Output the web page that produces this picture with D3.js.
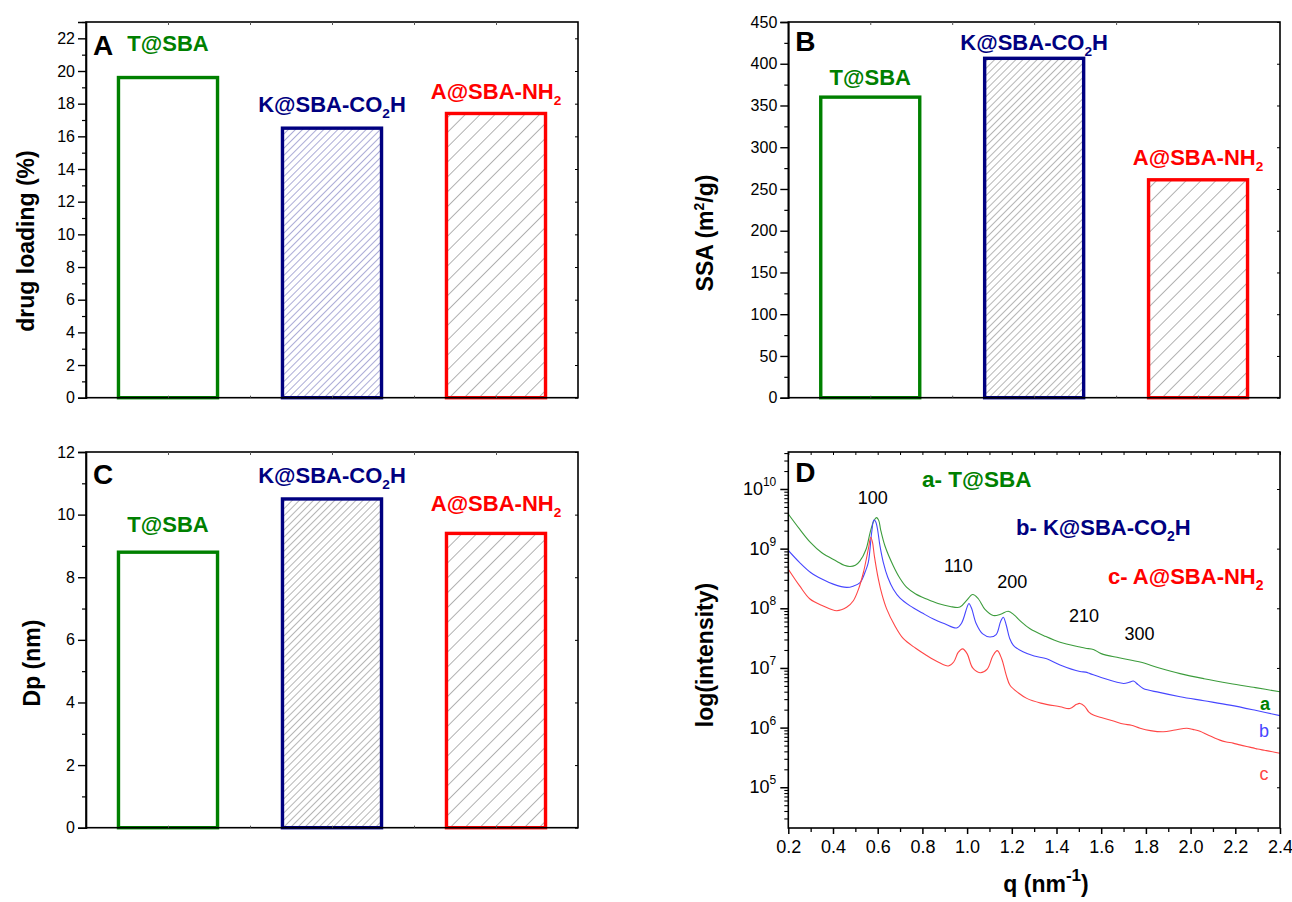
<!DOCTYPE html>
<html>
<head>
<meta charset="utf-8">
<script src="https://cdn.jsdelivr.net/npm/d3@7"></script>
<style>
  html, body { margin: 0; padding: 0; background: #fff; }
  svg { display: block; font-family: "Liberation Sans", Arial, sans-serif; }
</style>
</head>
<body>
<svg id="chart" width="1292" height="902"></svg>
<script>
// ---------------- DATA ----------------
const categories = ["T@SBA", "K@SBA-CO2H", "A@SBA-NH2"];
const drugLoading = [19.6, 16.5, 17.4];          // panel A (%)
const ssaValues = [360, 406.5, 261];             // panel B (m2/g)
const dpValues = [8.8, 10.5, 9.4];               // panel C (nm)

const ticksA = [0, 2, 4, 6, 8, 10, 12, 14, 16, 18, 20, 22];
const ticksB = [0, 50, 100, 150, 200, 250, 300, 350, 400, 450];
const ticksC = [0, 2, 4, 6, 8, 10, 12];
const ticksDx = [0.2, 0.4, 0.6, 0.8, 1.0, 1.2, 1.4, 1.6, 1.8, 2.0, 2.2, 2.4];
const ticksDyExp = [5, 6, 7, 8, 9, 10];

// panel D SAXS curves: [q (nm^-1), log10(intensity)]
const curveA = [[0.2,9.58],[0.25,9.33],[0.3,9.10],[0.35,8.93],[0.416,8.79],[0.45,8.72],[0.476,8.70],[0.50,8.72],[0.52,8.79],[0.548,8.99],[0.566,9.27],[0.582,9.46],[0.595,9.52],[0.605,9.47],[0.613,9.32],[0.633,9.04],[0.67,8.71],[0.70,8.50],[0.73,8.35],[0.77,8.24],[0.819,8.155],[0.87,8.08],[0.924,8.03],[0.968,8.02],[0.995,8.12],[1.025,8.23],[1.05,8.16],[1.08,7.98],[1.117,7.88],[1.15,7.90],[1.184,7.95],[1.21,7.89],[1.24,7.78],[1.28,7.66],[1.35,7.53],[1.416,7.43],[1.505,7.35],[1.53,7.33],[1.565,7.31],[1.60,7.24],[1.68,7.17],[1.774,7.10],[1.86,7.00],[1.953,6.905],[2.06,6.82],[2.176,6.74],[2.29,6.67],[2.4,6.60]];
const curveB = [[0.2,8.97],[0.25,8.77],[0.3,8.60],[0.35,8.49],[0.401,8.405],[0.461,8.35],[0.49,8.37],[0.521,8.43],[0.545,8.62],[0.558,8.77],[0.573,9.27],[0.583,9.48],[0.590,9.46],[0.598,9.35],[0.61,9.05],[0.625,8.77],[0.645,8.52],[0.67,8.32],[0.70,8.17],[0.745,8.04],[0.80,7.92],[0.849,7.82],[0.90,7.74],[0.953,7.67],[0.975,7.75],[1.0,8.02],[1.008,8.08],[1.02,8.00],[1.04,7.75],[1.07,7.57],[1.102,7.52],[1.13,7.56],[1.15,7.78],[1.162,7.85],[1.175,7.72],[1.19,7.50],[1.207,7.38],[1.25,7.27],[1.30,7.20],[1.356,7.155],[1.416,7.05],[1.505,6.94],[1.53,6.93],[1.55,6.905],[1.60,6.84],[1.70,6.74],[1.725,6.76],[1.744,6.78],[1.765,6.72],[1.788,6.655],[1.86,6.59],[1.953,6.517],[2.06,6.45],[2.176,6.377],[2.29,6.29],[2.4,6.20]];
const curveC = [[0.2,8.655],[0.25,8.38],[0.297,8.155],[0.356,8.04],[0.416,7.96],[0.461,8.017],[0.491,8.127],[0.515,8.33],[0.536,8.60],[0.558,8.99],[0.569,9.19],[0.577,9.10],[0.585,8.88],[0.603,8.49],[0.62,8.22],[0.64,7.99],[0.675,7.72],[0.715,7.49],[0.77,7.33],[0.819,7.21],[0.87,7.10],[0.916,7.033],[0.94,7.10],[0.96,7.26],[0.980,7.32],[1.0,7.24],[1.025,7.00],[1.058,6.92],[1.09,6.98],[1.115,7.20],[1.135,7.29],[1.155,7.15],[1.175,6.88],[1.192,6.71],[1.23,6.58],[1.267,6.49],[1.33,6.41],[1.416,6.35],[1.46,6.32],[1.49,6.39],[1.505,6.405],[1.525,6.36],[1.545,6.26],[1.565,6.21],[1.60,6.17],[1.655,6.11],[1.70,6.06],[1.735,6.04],[1.774,5.99],[1.82,5.95],[1.878,5.93],[1.93,5.96],[1.983,5.99],[2.01,5.97],[2.042,5.94],[2.08,5.87],[2.131,5.79],[2.16,5.76],[2.19,5.74],[2.22,5.71],[2.251,5.683],[2.28,5.66],[2.30,5.64],[2.33,5.62],[2.36,5.60],[2.4,5.57]];

const peakLabels = ["100", "110", "200", "210", "300"];
const peakLabelQ = [0.578, 0.961, 1.202, 1.523, 1.771];
const peakLabelLog = [9.74, 8.605, 8.34, 7.77, 7.47];

// ---------------- STYLE ----------------
const barColors = ["#008000", "#000080", "#ff0000"];
const curveColors = ["#3c9c3c", "#4646ff", "#ff4646"];
const FONT = '"Liberation Sans", Arial, sans-serif';

const svg = d3.select("#chart");
const defs = svg.append("defs");

function hatch(id, spacing, color, width) {
  const p = defs.append("pattern")
    .attr("id", id).attr("patternUnits", "userSpaceOnUse")
    .attr("width", spacing).attr("height", spacing)
    .attr("patternTransform", "rotate(45)");
  p.append("rect").attr("width", spacing).attr("height", spacing).attr("fill", "#fff");
  p.append("line").attr("x1", 0).attr("y1", 0).attr("x2", 0).attr("y2", spacing)
    .attr("stroke", color).attr("stroke-width", width);
}
hatch("hDenseBlue", 5, "#5a5ab0", 1);
hatch("hDenseGray", 5, "#6e6e6e", 1);
hatch("hWideGray", 10.5, "#666666", 1);

function labelText(g, name, x, y, color, size) {
  const t = g.append("text").attr("x", x).attr("y", y)
    .attr("text-anchor", "middle").attr("fill", color)
    .attr("font-weight", "bold").attr("font-size", size);
  if (name === "K@SBA-CO2H") {
    t.append("tspan").text("K@SBA-CO");
    t.append("tspan").attr("dy", 6).attr("font-size", size * 0.62).text("2");
    t.append("tspan").attr("dy", -6).text("H");
  } else if (name === "A@SBA-NH2") {
    t.append("tspan").text("A@SBA-NH");
    t.append("tspan").attr("dy", 6).attr("font-size", size * 0.62).text("2");
  } else {
    t.text(name);
  }
  return t;
}

function barPanel(opts) {
  const { x0, x1, y0, y1, max, values, ticks, minorStep, letter, fills, labelOffsets, title, titleX, titleY, superTitle } = opts;
  const g = svg.append("g");
  const x = d3.scaleBand().domain(categories).range([x0, x1]).paddingInner(0.396).paddingOuter(0.198);
  const xl = d3.scaleLinear().domain([0, 6]).range([x0, x1]);
  const y = d3.scaleLinear().domain([0, max]).range([y1, y0]);

  // bars
  g.selectAll("rect.bar").data(values).join("rect")
    .attr("x", (d, i) => x(categories[i]))
    .attr("y", d => y(d))
    .attr("width", x.bandwidth())
    .attr("height", d => y(0) - y(d))
    .attr("fill", (d, i) => fills[i])
    .attr("stroke", (d, i) => barColors[i])
    .attr("stroke-width", 3.4);

  // frame
  g.append("rect").attr("x", x0).attr("y", y0).attr("width", x1 - x0).attr("height", y1 - y0)
    .attr("fill", "none").attr("stroke", "#000").attr("stroke-width", 1.6);

  // left axis
  const left = d3.axisLeft(y).tickValues(ticks).tickSize(8).tickPadding(3).tickFormat(d3.format("d"));
  const ax = g.append("g").attr("transform", `translate(${x0},0)`).call(left);
  ax.select(".domain").attr("stroke-width", 1.6);
  ax.selectAll(".tick line").attr("stroke-width", 1.4);
  ax.selectAll("text").attr("font-size", 16).attr("font-family", FONT).attr("fill", "#000");
  const minors = d3.range(0, max + 1e-9, minorStep).filter(v => !ticks.includes(v));
  const mg = g.append("g").attr("transform", `translate(${x0},0)`)
    .call(d3.axisLeft(y).tickValues(minors).tickSize(4).tickFormat(""));
  mg.select(".domain").remove();
  mg.selectAll(".tick line").attr("stroke-width", 1.2);
  // right inward ticks
  const rg = g.append("g").attr("transform", `translate(${x1},0)`)
    .call(d3.axisLeft(y).tickValues(ticks).tickSize(3).tickFormat(""));
  rg.select(".domain").remove();
  // top/bottom small inward ticks
  const tg = g.append("g").attr("transform", `translate(0,${y0})`)
    .call(d3.axisBottom(xl).tickValues([1, 2, 3, 4, 5]).tickSize(3).tickFormat(""));
  tg.select(".domain").remove();
  tg.selectAll(".tick line").attr("stroke", "#555");
  const bg = g.append("g").attr("transform", `translate(0,${y1})`)
    .call(d3.axisTop(xl).tickValues([1, 2, 3, 4, 5]).tickSize(2).tickFormat(""));
  bg.select(".domain").remove();
  bg.selectAll(".tick line").attr("stroke", "#555");

  // labels above bars
  values.forEach((v, i) => {
    labelText(g, categories[i], x(categories[i]) + x.bandwidth() / 2, y(v) - labelOffsets[i], barColors[i], 22);
  });

  // panel letter
  g.append("text").attr("x", x0 + 7).attr("y", opts.letterY).attr("font-size", 28)
    .attr("font-weight", "bold").text(letter);

  // axis title
  const tt = g.append("text").attr("transform", `translate(${titleX},${titleY}) rotate(-90)`)
    .attr("text-anchor", "middle").attr("font-size", 23).attr("font-weight", "bold");
  if (superTitle) {
    tt.append("tspan").text("SSA (m");
    tt.append("tspan").attr("dy", -9).attr("font-size", 14).text("2");
    tt.append("tspan").attr("dy", 9).text("/g)");
  } else {
    tt.text(title);
  }
}

barPanel({ x0: 86, x1: 578, y0: 22, y1: 397.7, max: 23, values: drugLoading, ticks: ticksA, minorStep: 1,
  letter: "A", letterY: 55, fills: ["#fff", "url(#hDenseBlue)", "url(#hWideGray)"], labelOffsets: [26.7, 16, 14],
  title: "drug loading (%)", titleX: 34, titleY: 241 });
barPanel({ x0: 788.3, x1: 1280, y0: 22, y1: 397.7, max: 450, values: ssaValues, ticks: ticksB, minorStep: 25,
  letter: "B", letterY: 51, fills: ["#fff", "url(#hDenseGray)", "url(#hWideGray)"], labelOffsets: [12, 8, 15],
  superTitle: true, titleX: 713, titleY: 233 });
barPanel({ x0: 86, x1: 578, y0: 452, y1: 827.7, max: 12, values: dpValues, ticks: ticksC, minorStep: 1,
  letter: "C", letterY: 484, fills: ["#fff", "url(#hDenseGray)", "url(#hWideGray)"], labelOffsets: [20, 16, 22],
  title: "Dp (nm)", titleX: 40, titleY: 663 });

// ---------------- PANEL D ----------------
(function () {
  const x0 = 788.3, x1 = 1280, y0 = 452, y1 = 828;
  const g = svg.append("g");
  const x = d3.scaleLinear().domain([0.2, 2.4]).range([x0, x1]);
  const y = d3.scaleLog().domain([Math.pow(10, 4.317), Math.pow(10, 10.62)]).range([y1, y0]);

  const clipId = "clipD";
  defs.append("clipPath").attr("id", clipId).append("rect")
    .attr("x", x0).attr("y", y0).attr("width", x1 - x0).attr("height", y1 - y0);

  const line = d3.line().x(d => x(d[0])).y(d => y(Math.pow(10, d[1]))).curve(d3.curveCatmullRom.alpha(0.5));
  [curveA, curveB, curveC].forEach((c, i) => {
    g.append("path").attr("d", line(c)).attr("fill", "none")
      .attr("stroke", curveColors[i]).attr("stroke-width", 1.1).attr("clip-path", `url(#${clipId})`);
  });

  g.append("rect").attr("x", x0).attr("y", y0).attr("width", x1 - x0).attr("height", y1 - y0)
    .attr("fill", "none").attr("stroke", "#000").attr("stroke-width", 1.6);

  // bottom axis
  const bx = g.append("g").attr("transform", `translate(0,${y1})`)
    .call(d3.axisBottom(x).tickValues(ticksDx).tickSize(6).tickPadding(6).tickFormat(d3.format(".1f")));
  bx.select(".domain").remove();
  bx.selectAll(".tick line").attr("stroke-width", 1.5);
  bx.selectAll("text").attr("font-size", 18).attr("font-family", FONT).attr("fill", "#000");
  const minorQ = d3.range(0.3, 2.4, 0.2);
  const mbx = g.append("g").attr("transform", `translate(0,${y1})`)
    .call(d3.axisBottom(x).tickValues(minorQ).tickSize(4).tickFormat(""));
  mbx.select(".domain").remove();
  mbx.selectAll(".tick line").attr("stroke-width", 1.3);
  // top inward ticks
  const tx = g.append("g").attr("transform", `translate(0,${y0})`)
    .call(d3.axisBottom(x).tickValues(d3.range(0.2, 2.41, 0.1)).tickSize(3).tickFormat(""));
  tx.select(".domain").remove();

  // left log axis
  const majors = ticksDyExp.map(e => Math.pow(10, e));
  const ly = g.append("g").attr("transform", `translate(${x0},0)`)
    .call(d3.axisLeft(y).tickValues(majors).tickSize(8).tickFormat(""));
  ly.select(".domain").remove();
  ly.selectAll(".tick line").attr("stroke-width", 1.5);
  const minorsY = [];
  for (let e = 4; e <= 10; e++) for (let m = 2; m <= 9; m++) {
    const v = m * Math.pow(10, e);
    if (v >= y.domain()[0] && v <= y.domain()[1]) minorsY.push(v);
  }
  const my = g.append("g").attr("transform", `translate(${x0},0)`)
    .call(d3.axisLeft(y).tickValues(minorsY).tickSize(4).tickFormat(""));
  my.select(".domain").remove();
  my.selectAll(".tick line").attr("stroke-width", 1.1);
  const ry = g.append("g").attr("transform", `translate(${x1},0)`)
    .call(d3.axisLeft(y).tickValues(majors).tickSize(3).tickFormat(""));
  ry.select(".domain").remove();

  // log tick labels with superscripts
  ticksDyExp.forEach(e => {
    const t = g.append("text").attr("x", x0 - 12).attr("y", y(Math.pow(10, e)) + 6)
      .attr("text-anchor", "end").attr("font-size", 18);
    t.append("tspan").text("10");
    t.append("tspan").attr("dy", -9).attr("font-size", 12).text(String(e));
  });

  // peak labels
  peakLabels.forEach((s, i) => {
    g.append("text").attr("x", x(peakLabelQ[i])).attr("y", y(Math.pow(10, peakLabelLog[i])))
      .attr("text-anchor", "middle").attr("font-size", 18).text(s);
  });

  // legend labels
  g.append("text").attr("x", 922).attr("y", 487).attr("font-size", 22.5).attr("font-weight", "bold")
    .attr("fill", barColors[0]).text("a- T@SBA");
  const lb = g.append("text").attr("x", 1016).attr("y", 535).attr("font-size", 22).attr("font-weight", "bold")
    .attr("fill", barColors[1]);
  lb.append("tspan").text("b- K@SBA-CO");
  lb.append("tspan").attr("dy", 6).attr("font-size", 14).text("2");
  lb.append("tspan").attr("dy", -6).text("H");
  const lc = g.append("text").attr("x", 1108).attr("y", 584).attr("font-size", 22).attr("font-weight", "bold")
    .attr("fill", barColors[2]);
  lc.append("tspan").text("c- A@SBA-NH");
  lc.append("tspan").attr("dy", 6).attr("font-size", 14).text("2");

  g.append("text").attr("x", 1265).attr("y", 710).attr("text-anchor", "middle").attr("font-size", 18)
    .attr("font-weight", "bold").attr("fill", barColors[0]).text("a");
  g.append("text").attr("x", 1264).attr("y", 737).attr("text-anchor", "middle").attr("font-size", 18)
    .attr("fill", curveColors[1]).text("b");
  g.append("text").attr("x", 1264).attr("y", 780).attr("text-anchor", "middle").attr("font-size", 18)
    .attr("fill", curveColors[2]).text("c");

  // panel letter
  g.append("text").attr("x", x0 + 7).attr("y", 482).attr("font-size", 28).attr("font-weight", "bold").text("D");

  // axis titles
  g.append("text").attr("transform", `translate(713,655) rotate(-90)`).attr("text-anchor", "middle")
    .attr("font-size", 23).attr("font-weight", "bold").text("log(intensity)");
  const qt = g.append("text").attr("x", 1046).attr("y", 892).attr("text-anchor", "middle")
    .attr("font-size", 23).attr("font-weight", "bold");
  qt.append("tspan").text("q (nm");
  qt.append("tspan").attr("dy", -11).attr("font-size", 17).text("-1");
  qt.append("tspan").attr("dy", 11).text(")");
})();
</script>
</body>
</html>
